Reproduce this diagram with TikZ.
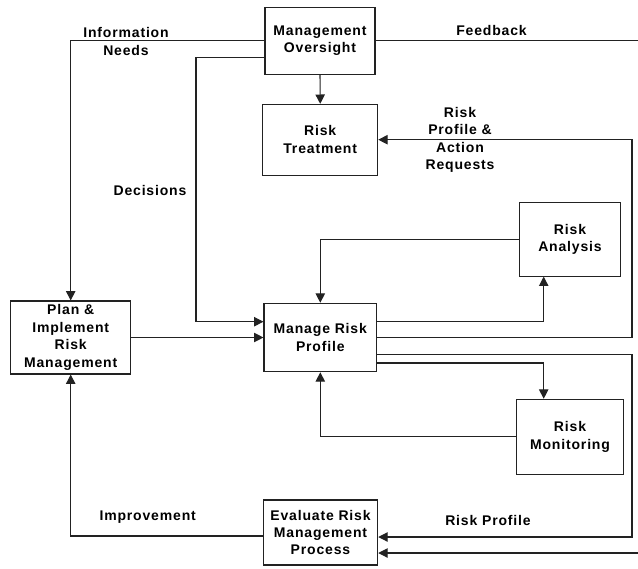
\documentclass[tikz,border=0pt]{standalone}
\usepackage{fontspec}
\usetikzlibrary{arrows.meta,calc}
\newfontfamily\diagfont{Liberation Sans}[LetterSpace=6]
\newcommand\labfont{\diagfont\bfseries\fontsize{10.5}{13.1}\selectfont}
\definecolor{linec}{HTML}{222222}
\tikzset{
  box/.style={draw=linec, line width=0.8pt, inner sep=0pt, align=center, font=\labfont},
  lab/.style={align=center, inner sep=0pt, font=\labfont},
  conn/.style={draw=linec, line width=0.8pt},
  arr/.style={conn, -{Triangle[length=7pt,width=7pt]}},
}
\begin{document}
\begin{tikzpicture}[x=0.75pt, y=-0.75pt]
\fill[white] (0,0) rectangle (638,568);
\useasboundingbox (0,0) rectangle (638,568);

% process boxes
\node[box, minimum width=82.5pt, minimum height=50pt] (MO) at (320,40.7) {Management\\Oversight};
\node[box, minimum width=86.25pt, minimum height=53pt] (RT) at (320.2,139.7) {Risk\\Treatment};
\node[box, minimum width=90pt, minimum height=54.75pt] (PL) at (70.7,337.5) {Plan \&\\Implement\\Risk\\Management};
\node[box, minimum width=84.5pt, minimum height=51.3pt] (MRP) at (320.3,337.5) {Manage Risk\\Profile};
\node[box, minimum width=75.5pt, minimum height=55.3pt] (RA) at (570,239.2) {Risk\\Analysis};
\node[box, minimum width=80pt, minimum height=56.25pt] (RM) at (570,436.8) {Risk\\Monitoring};
\node[box, minimum width=85.8pt, minimum height=48.75pt] (EV) at (320.5,532.5) {Evaluate Risk\\Management\\Process};

% routing columns and free ends
\coordinate (rx) at (632,0);
\coordinate (ax) at (543.7,0);
\coordinate (dx) at (196,0);
\coordinate (fbend) at (638,41.7);
\coordinate (evin) at (638,553);

% side ports
\coordinate (moB) at ($(MO.west)+(0,17)$);
\coordinate (mrpA) at ($(MRP.west)+(0,-15.8)$);
\coordinate (mrpE1) at ($(MRP.east)+(0,-15.8)$);
\coordinate (mrpE3) at ($(MRP.east)+(0,16.8)$);
\coordinate (mrpE4) at ($(MRP.east)+(0,25.5)$);
\coordinate (evA) at ($(EV.east)+(0,4.5)$);
\coordinate (evW) at ($(EV.west)+(0,3.5)$);

% connectors
\draw[arr] (MO.west) -| (PL.north);
\draw[arr] (moB) -| (dx |- mrpA) -- (mrpA);
\draw[conn] (MO.east) -- (MO.east -| fbend);
\draw[arr] (MO.south) -- (RT.north);
\draw[arr] (MRP.east) -| (rx |- RT.east) -- (RT.east);
\draw[arr] (RA.west) -| (MRP.north);
\draw[arr] (mrpE1) -| (ax |- RA.south);
\draw[arr] (mrpE3) -| (rx |- evA) -- (evA);
\draw[arr] (mrpE4) -| (ax |- RM.north);
\draw[arr] (RM.west) -| (MRP.south);
\draw[arr] (evW) -| (PL.south);
\draw[arr] (evin) -- (evin -| EV.east);
\draw[arr] (PL.east) -- (PL.east -| MRP.west);

% flow labels
\node[lab] (lInfo) at (126,41.5) {Information\\Needs};
\node[lab] (lFb) at (491.5,30) {Feedback};
\node[lab] (lDec) at (150,190) {Decisions};
\node[lab] (lReq) at (460,140) {Risk\\Profile \&\\Action\\Requests};
\node[lab] (lImp) at (147.7,516.7) {Improvement};
\node[lab] (lRp) at (488,520) {Risk Profile};
\end{tikzpicture}
\end{document}
